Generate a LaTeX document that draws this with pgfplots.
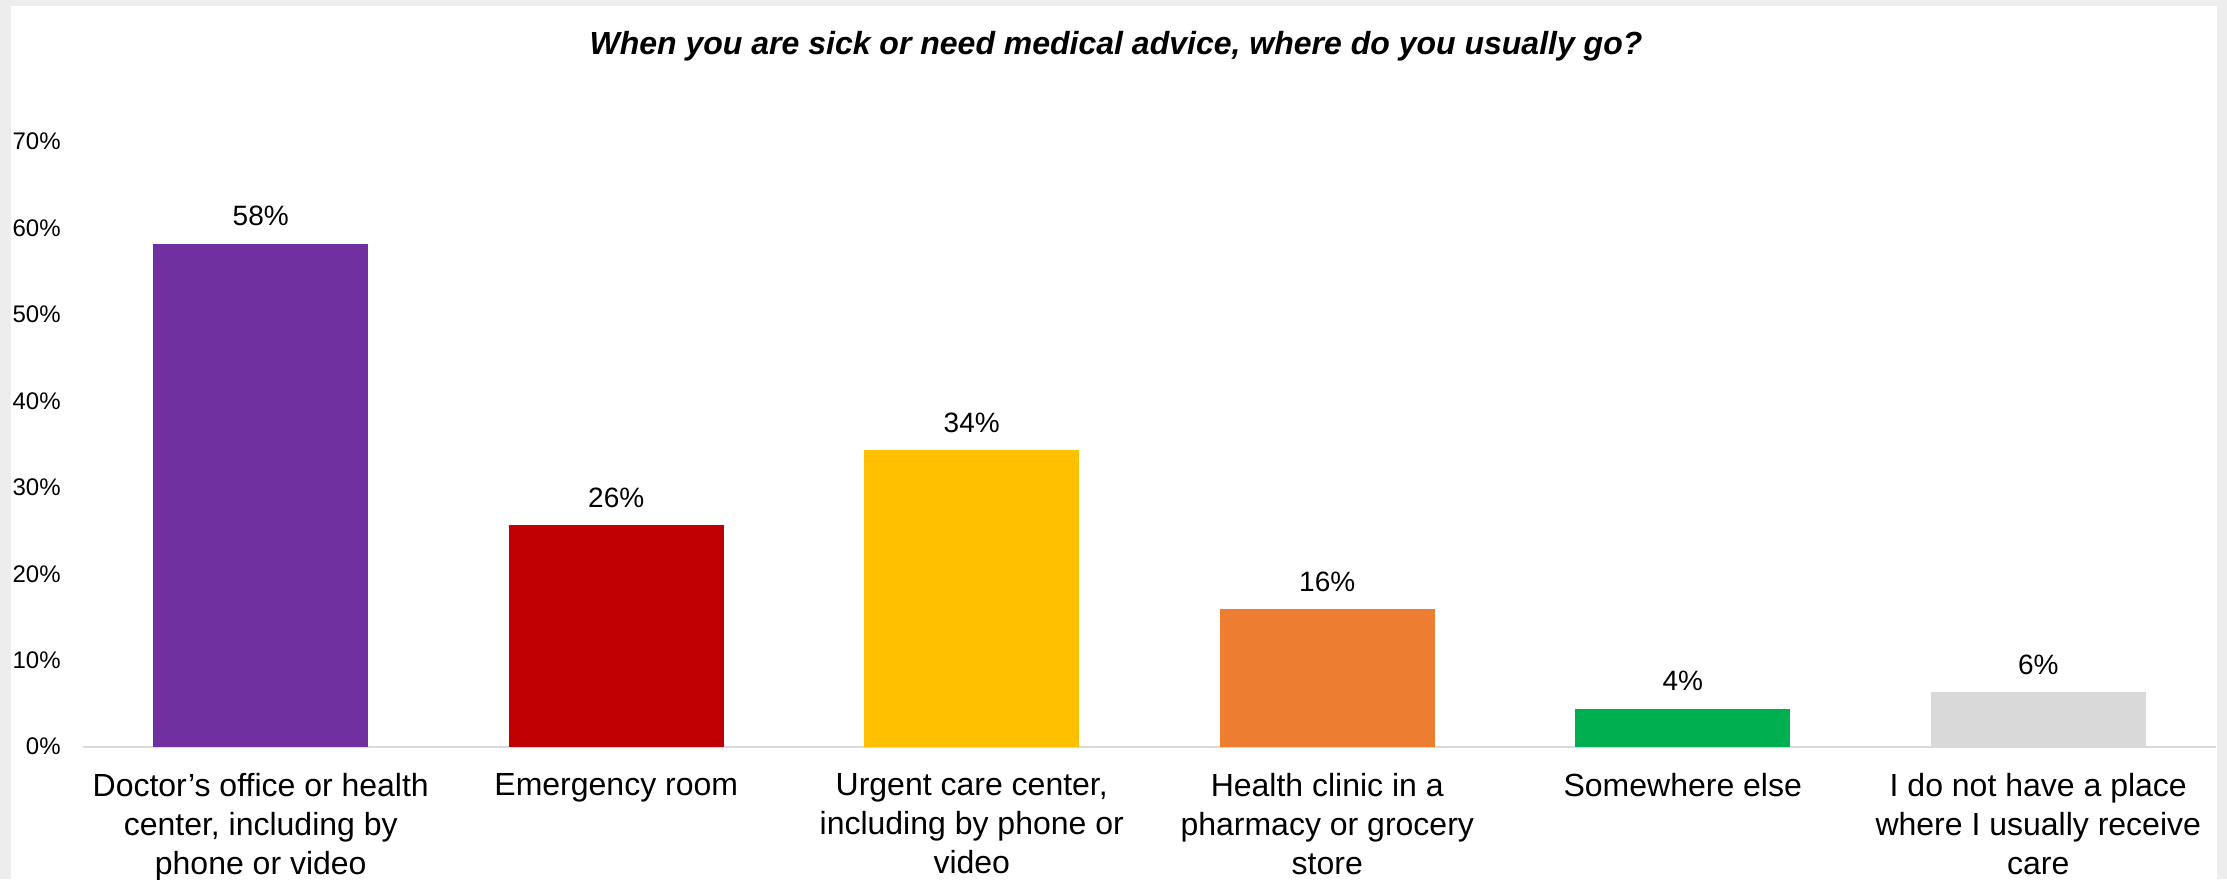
\documentclass[border=0pt]{standalone}
\usepackage{pgfplots}
\pgfplotsset{compat=1.18}
\usepackage{fontspec}
\setmainfont{Liberation Sans}

\definecolor{cpurple}{HTML}{7030A0}
\definecolor{cred}{HTML}{C00000}
\definecolor{cgold}{HTML}{FFC000}
\definecolor{corange}{HTML}{ED7D31}
\definecolor{cgreen}{HTML}{00B050}
\definecolor{cgrey}{HTML}{D9D9D9}
\definecolor{axisgrey}{HTML}{D9D9D9}

\begin{document}
\begin{tikzpicture}
% page frame: 1 px of the reference = 0.5pt
\path[use as bounding box, fill=black!7] (0pt,0pt) rectangle (1113.5pt,439.5pt);
\fill[white] (5.5pt,0pt) rectangle (1108.5pt,436.5pt);

\begin{axis}[
  at={(41.5pt,66.15pt)}, anchor=south west,
  scale only axis,
  width=1066.5pt, height=302.5pt,
  xmin=-0.5, xmax=5.5,
  ymin=0, ymax=70,
  enlargelimits=false,
  clip=false,
  ybar, bar width=107.5pt,
  axis x line*=bottom,
  axis y line*=left,
  y axis line style={draw=none},
  x axis line style={draw=axisgrey, line width=1.2pt},
  tick style={draw=none},
  /pgf/number format/assume math mode=true,
  ytick={0,10,...,70},
  yticklabel={\pgfmathprintnumber{\tick}\%},
  yticklabel style={font=\fontsize{12}{14}\selectfont, anchor=east, inner sep=0pt, xshift=-11pt},
  xtick={0,...,5},
  xticklabels={
    {Doctor’s office or health\\center, including by\\phone or video},
    {Emergency room},
    {Urgent care center,\\including by phone or\\video},
    {Health clinic in a\\pharmacy or grocery\\store},
    {Somewhere else},
    {I do not have a place\\where I usually receive\\care}},
  xticklabel style={font=\fontsize{16}{19.5}\selectfont, align=center, anchor=north, inner sep=0pt, yshift=-9pt},
  nodes near coords={\pgfmathprintnumber[fixed,precision=0]{\pgfplotspointmeta}\%},
  nodes near coords style={font=\fontsize{14}{16}\selectfont, anchor=base, inner sep=0pt, yshift=9pt, black},
  title={When you are sick or need medical advice, where do you usually go?},
  every axis title/.style={at={(0.5,1)}, anchor=base, yshift=43.5pt, xshift=-16.75pt,
    font=\fontsize{16}{19}\selectfont\bfseries\itshape},
]
\addplot[fill=cpurple, draw=none, bar shift=0pt] coordinates {(0,58.2)};
\addplot[fill=cred,    draw=none, bar shift=0pt] coordinates {(1,25.6)};
\addplot[fill=cgold,   draw=none, bar shift=0pt] coordinates {(2,34.3)};
\addplot[fill=corange, draw=none, bar shift=0pt] coordinates {(3,15.9)};
\addplot[fill=cgreen,  draw=none, bar shift=0pt] coordinates {(4,4.4)};
\addplot[fill=cgrey,   draw=none, bar shift=0pt] coordinates {(5,6.3)};
\end{axis}
\end{tikzpicture}
\end{document}
